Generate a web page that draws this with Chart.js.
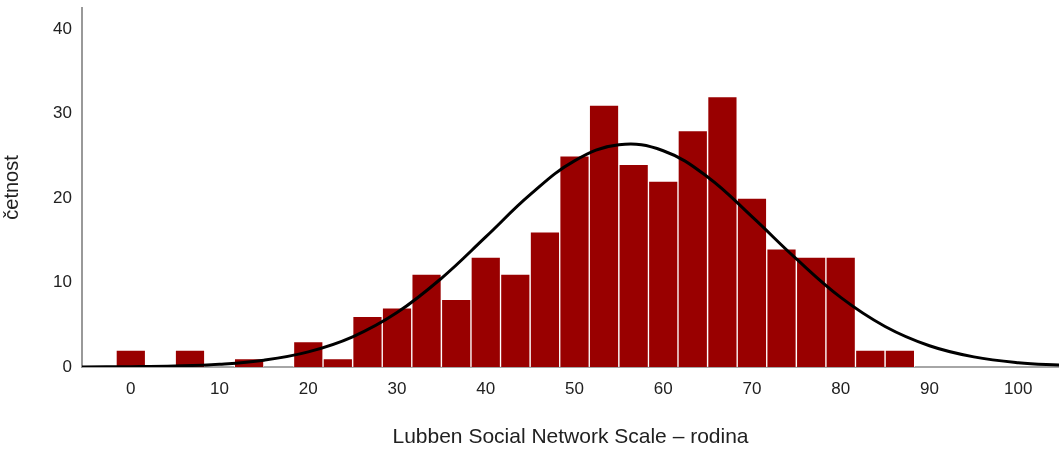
<!DOCTYPE html>
<html>
<head>
<meta charset="utf-8">
<script src="https://cdn.jsdelivr.net/npm/chart.js@4.4.1/dist/chart.umd.min.js"></script>
<style>
  body { margin: 0; background: #fff; }
  #wrap { width: 1059px; height: 450px; }
</style>
</head>
<body>
<div id="wrap"><canvas id="histGraph"></canvas></div>
<script>
// bin centres (width 10/3) and counts
const binCenters = [0, 6.67, 13.33, 20, 23.33, 26.67, 30, 33.33, 36.67, 40, 43.33, 46.67,
  50, 53.33, 56.67, 60, 63.33, 66.67, 70, 73.33, 76.67, 80, 83.33, 86.67];
const binCounts = [2, 2, 1, 3, 1, 6, 7, 11, 8, 13, 11, 16,
  25, 31, 24, 22, 28, 32, 20, 14, 13, 13, 2, 2];

// normal curve
const curveX = [-5.5, 0, 5, 10, 15, 20, 25, 30, 35, 40, 45, 50, 55, 60, 65, 70, 75, 80, 85, 90, 95, 100, 105];
const curveY = [0.01, 0.04, 0.12, 0.33, 0.81, 1.79, 3.57, 6.44, 10.5, 15.4, 20.4, 24.4, 26.3,
  25.6, 22.5, 17.8, 12.8, 8.24, 4.8, 2.52, 1.2, 0.51, 0.2];

const xTicks = [0, 10, 20, 30, 40, 50, 60, 70, 80, 90, 100];
const yTicks = [0, 10, 20, 30, 40];

const xTitle = 'Lubben Social Network Scale – rodina';
const yTitle = 'četnost';

const ctx = document.getElementById('histGraph').getContext('2d');
const fontFamily = '"Liberation Sans", Arial, sans-serif';

function createChart() {
  const bars = binCenters.map((x, i) => ({ x: x, y: binCounts[i] }));
  const curve = curveX.map((x, i) => ({ x: x, y: curveY[i] }));

  return new Chart(ctx, {
    type: 'bar',
    data: {
      datasets: [{
        type: 'line',
        data: curve,
        borderColor: '#000000',
        borderWidth: 3,
        pointRadius: 0,
        tension: 0.4,
        fill: false,
        order: 0
      }, {
        type: 'bar',
        data: bars,
        backgroundColor: '#990000',
        borderColor: 'rgba(255,255,255,0.75)',
        borderWidth: 1,
        borderSkipped: 'bottom',
        barPercentage: 1,
        categoryPercentage: 1,
        order: 1
      }]
    },
    options: {
      animation: false,
      maintainAspectRatio: false,
      responsive: true,
      layout: { padding: { top: 8, left: 0, right: 0, bottom: 0 } },
      plugins: {
        legend: { display: false },
        tooltip: { enabled: false }
      },
      scales: {
        x: {
          type: 'linear',
          min: -5.5,
          max: 104.6,
          offset: false,
          grid: { display: false, drawTicks: false },
          border: { display: true, color: '#a6a6a6', width: 2 },
          afterBuildTicks: (scale) => { scale.ticks = xTicks.map(v => ({ value: v })); },
          afterFit: (scale) => {
            scale.height = 83;
            scale.paddingLeft = 0;
            scale.paddingRight = 0;
          },
          ticks: {
            color: '#212121',
            padding: 12,
            maxRotation: 0,
            autoSkip: false,
            font: { family: fontFamily, size: 17 }
          },
          title: {
            display: true,
            text: xTitle,
            color: '#212121',
            padding: { top: 0, bottom: 0 },
            font: { family: fontFamily, size: 21 }
          }
        },
        y: {
          min: 0,
          max: 42.5,
          grid: { display: false, drawTicks: false },
          border: { display: true, color: '#999999', width: 2 },
          afterBuildTicks: (scale) => { scale.ticks = yTicks.map(v => ({ value: v })); },
          afterFit: (scale) => {
            scale.width = 82;
            scale.paddingTop = 0;
            scale.paddingBottom = 0;
          },
          ticks: {
            color: '#212121',
            padding: 10,
            font: { family: fontFamily, size: 17 }
          },
          title: {
            display: true,
            text: yTitle,
            color: '#212121',
            padding: { top: 0, bottom: 0 },
            font: { family: fontFamily, size: 20 }
          }
        }
      }
    }
  });
}

const histGraph = createChart();
</script>
</body>
</html>
